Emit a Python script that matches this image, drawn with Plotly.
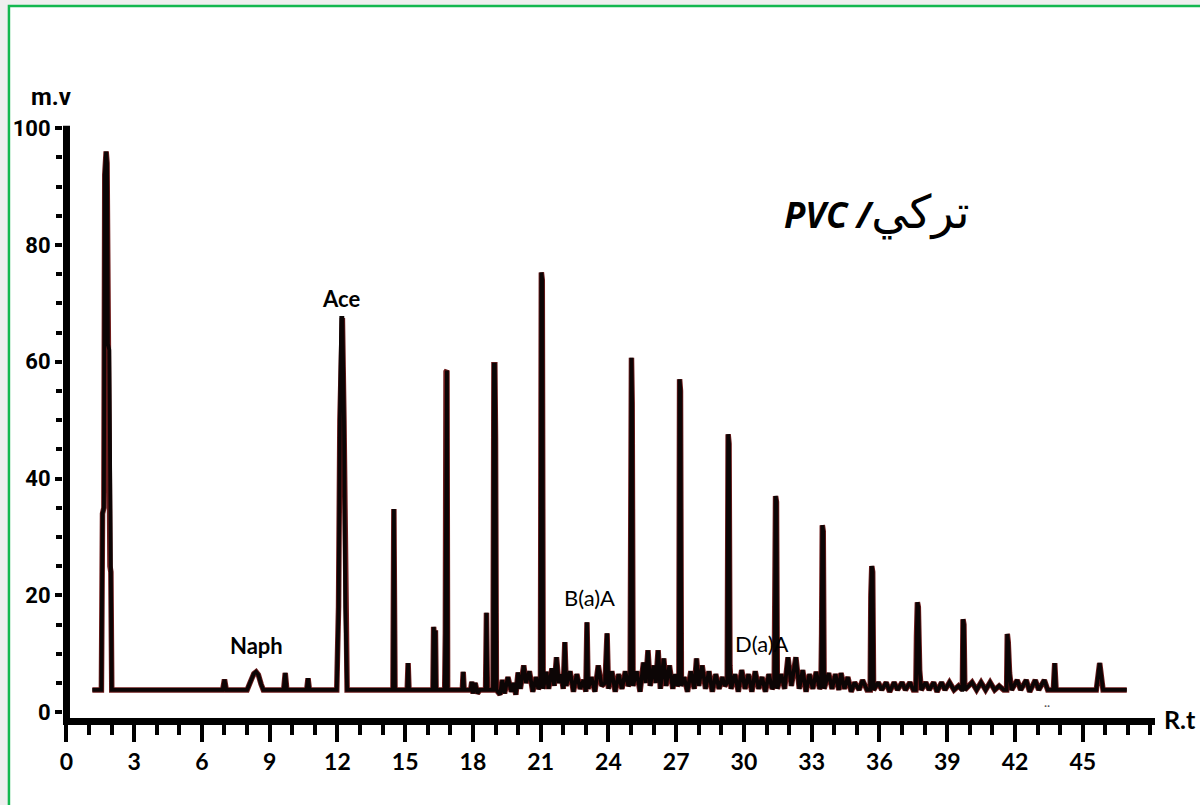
import plotly.graph_objects as go

# Retention time (min) and detector signal (m.v)
rt_min = [
    1.15, 1.55, 1.60, 1.66, 1.70, 1.76, 1.80, 1.84, 1.90, 1.93, 1.97, 2.01,
    6.92, 7.00, 7.08,
    8.00, 8.15, 8.30, 8.40, 8.50, 8.62, 8.72,
    9.62, 9.69, 9.76,
    10.64, 10.70, 10.76,
    11.97, 12.05, 12.11, 12.17, 12.22, 12.29, 12.35, 12.43,
    14.46, 14.50, 14.55,
    15.09, 15.13, 15.17,
    16.23, 16.26, 16.30, 16.34, 16.37,
    16.75, 16.78, 16.81, 16.85, 16.88,
    17.53, 17.57, 17.61,
    17.90, 17.95, 18.00, 18.10, 18.20, 18.30,
    18.56, 18.60, 18.64, 18.89, 18.93, 18.97, 19.00, 19.04,
    19.20, 19.30, 19.40, 19.55, 19.70, 19.80, 19.90, 20.00, 20.10, 20.25, 20.35, 20.50, 20.65, 20.80, 20.90,
    20.99, 21.03, 21.07, 21.11,
    21.25, 21.35, 21.50, 21.60, 21.70, 21.80, 21.90, 22.00, 22.07, 22.13, 22.30, 22.45, 22.60, 22.75,
    22.90, 23.00, 23.05, 23.10, 23.25, 23.40, 23.55, 23.70, 23.85, 23.94, 24.00, 24.15, 24.30, 24.45,
    24.60, 24.75, 24.88,
    24.96, 24.99, 25.02, 25.05, 25.09,
    25.25, 25.40, 25.55, 25.65, 25.75, 25.85, 26.00, 26.10, 26.20, 26.30, 26.45, 26.55, 26.70, 26.85,
    26.95, 27.05,
    27.12, 27.15, 27.19, 27.23,
    27.35, 27.50, 27.65, 27.80, 27.90, 28.00, 28.15, 28.30, 28.45, 28.60, 28.75, 28.90, 29.05, 29.15,
    29.26, 29.30, 29.34, 29.38, 29.43,
    29.60, 29.75, 29.90, 30.05, 30.20, 30.35, 30.50, 30.65, 30.80, 30.95, 31.10, 31.25,
    31.34, 31.37, 31.40, 31.44, 31.48,
    31.65, 31.80, 31.95, 32.10, 32.30, 32.45, 32.60, 32.75, 32.90, 33.05, 33.20, 33.35,
    33.41, 33.44, 33.47, 33.51, 33.55,
    33.75, 33.90, 34.05, 34.20, 34.30, 34.45, 34.60, 34.75, 34.90, 35.10, 35.25, 35.45,
    35.59, 35.62, 35.66, 35.70, 35.74,
    35.95, 36.10, 36.30, 36.45, 36.65, 36.80, 37.00, 37.15, 37.35, 37.50,
    37.61, 37.64, 37.68, 37.72, 37.78, 37.85,
    38.05, 38.20, 38.40, 38.55, 38.75, 38.90, 39.10, 39.30, 39.50, 39.65,
    39.67, 39.70, 39.74, 39.78,
    40.10, 40.30, 40.50, 40.70, 40.90, 41.10, 41.30, 41.50,
    41.63, 41.66, 41.70, 41.76, 41.85,
    42.10, 42.25, 42.50, 42.65, 42.90, 43.05, 43.30, 43.45, 43.60,
    43.70, 43.76, 43.82,
    45.60, 45.75, 45.90,
    46.95,
]

signal_mv = [
    3.8, 3.8, 34, 35, 92, 96, 94, 63, 62, 25, 24, 3.8,
    3.8, 5.6, 3.8,
    3.8, 5.2, 6.6, 6.9, 6.4, 4.8, 3.8,
    3.8, 6.7, 3.8,
    3.8, 5.8, 3.8,
    3.8, 18, 50, 67.5, 67.5, 50, 18, 3.8,
    3.8, 34.8, 3.8,
    3.8, 8.4, 3.8,
    3.8, 14.6, 12, 14, 3.8,
    3.8, 13.5, 58.3, 58.5, 3.8,
    3.8, 6.9, 3.8,
    3.8, 5.2, 3.2, 5.0, 3.2, 3.8,
    3.8, 17, 3.8, 3.8, 59.5, 59.5, 47, 3.8,
    3.0, 5.5, 3.2, 6.0, 3.5, 5.0, 3.0, 6.8, 4.0, 8.0, 5.0, 7.0, 3.5, 6.0, 4.0,
    4.5, 75.3, 74, 4.0,
    6.9, 4.0, 7.5, 4.5, 9.4, 5.0, 6.5, 4.0, 12, 4.5, 7.0, 3.5, 6.5, 4.0,
    5.5, 3.5, 15.4, 4.0, 6.0, 3.5, 8.0, 4.5, 5.0, 13.5, 4.0, 7.0, 3.5, 6.5,
    4.0, 7.0, 4.5,
    5.0, 33, 60.7, 53, 4.5,
    7.0, 3.5, 8.5, 5.0, 10.6, 4.5, 8.0, 5.0, 10.6, 4.0, 9.2, 4.5, 8.0, 4.0,
    6.5, 4.5,
    5.0, 57, 55, 4.5,
    6.0, 3.5, 7.0, 4.0, 9.2, 4.5, 8.0, 4.0, 7.0, 3.5, 6.5, 4.0, 6.0, 4.5,
    5.0, 47.6, 46, 8.0, 4.0,
    6.5, 3.5, 7.2, 4.0, 6.5, 3.5, 7.0, 4.0, 6.0, 3.5, 6.5, 4.0,
    4.5, 13.5, 37, 36, 4.0,
    6.5, 4.0, 9.4, 4.5, 9.4, 4.0, 7.2, 3.5, 6.5, 4.0, 6.9, 4.0,
    4.5, 13.5, 32, 31, 4.0,
    6.7, 4.0, 6.5, 3.8, 6.7, 4.0, 6.0, 3.5, 5.1, 3.8, 5.5, 3.8,
    3.8, 20, 25, 24, 3.8,
    5.1, 3.8, 5.1, 3.5, 5.1, 3.8, 5.1, 3.8, 5.1, 3.8,
    3.8, 13, 18.8, 18, 7.2, 3.8,
    5.1, 3.8, 5.1, 3.5, 5.1, 3.8, 5.1, 3.8, 4.5, 3.8,
    3.8, 15.9, 15, 3.8,
    5.1, 3.8, 5.1, 3.8, 5.1, 3.8, 4.5, 3.8,
    3.8, 13.4, 12, 6.7, 3.8,
    5.5, 3.8, 5.5, 3.5, 5.5, 3.8, 5.5, 3.8, 3.8,
    3.8, 8.4, 3.8,
    3.8, 8.4, 3.8,
    3.8,
]

# Peak labels
peak_names = ["Naph", "Ace", "B(a)A", "D(a)A"]
x_ticks = list(range(0, 46, 3))
y_ticks = [0, 20, 40, 60, 80, 100]

fig = go.Figure()
fig.add_trace(go.Scatter(x=rt_min, y=signal_mv, mode="lines",
                         line=dict(color="#6e1c1c", width=5.5), hoverinfo="skip"))
fig.add_trace(go.Scatter(x=rt_min, y=signal_mv, mode="lines",
                         line=dict(color="#0c0505", width=3.8)))

label_pos = [(8.40, 11.5), (12.16, 70.9), (23.14, 19.7), (30.8, 11.7)]
label_bold = [True, True, False, False]
for name, (lx, ly), b in zip(peak_names, label_pos, label_bold):
    fig.add_annotation(x=lx, y=ly, text=name, showarrow=False,
                       xanchor="center", yanchor="middle",
                       font=dict(family="Lato", size=22, color="black",
                                 weight="bold" if b else "normal"))

fig.add_annotation(x=35.9, y=86.0,
                   text="<b><i>PVC /</i></b><span style='font-size:46px'>تركي</span>",
                   showarrow=False, xanchor="center", yanchor="middle",
                   font=dict(family="Open Sans, DejaVu Sans", size=35, color="black"))
fig.add_annotation(xref="paper", yref="paper", x=-0.011, y=1.051, text="m.v",
                   showarrow=False, xanchor="center", yanchor="middle",
                   font=dict(family="Roboto", size=24, color="black", weight="bold"))
fig.add_annotation(xref="paper", yref="paper", x=1.023, y=-0.002, text="R.t",
                   showarrow=False, xanchor="center", yanchor="middle",
                   font=dict(family="Lato", size=25, color="black", weight="bold"))
# faint specks under the trace near 43.4 min
fig.add_annotation(x=43.4, y=1.2, text="··", showarrow=False,
                   xanchor="center", yanchor="middle",
                   font=dict(family="Lato", size=12, color="#555555"))

# frame of the figure (green top/left border)
fig.add_shape(type="rect", xref="paper", yref="paper", x0=-0.0495, x1=1.05, y0=-0.17, y1=1.2047,
              line=dict(color="#14b850", width=2.5), fillcolor="white", layer="below")
# thick y axis line
fig.add_shape(type="line", xref="paper", yref="paper", x0=0.0032, x1=0.0032, y0=-0.012, y1=1.002,
              line=dict(color="black", width=7))

fig.update_layout(
    width=1200, height=805,
    margin=dict(l=63, r=45, t=127, b=87),
    paper_bgcolor="#efefef", plot_bgcolor="rgba(0,0,0,0)",
    showlegend=False,
    xaxis=dict(range=[-0.15, 48.2], tickvals=x_ticks, showgrid=False, zeroline=False,
               showline=True, linewidth=7, linecolor="black",
               ticks="outside", ticklen=17, tickwidth=4, tickcolor="black",
               minor=dict(dtick=1, tick0=0, ticks="outside", ticklen=10, tickwidth=4, tickcolor="black"),
               tickfont=dict(family="Lato", size=23, color="black", weight="bold")),
    yaxis=dict(range=[-1.0, 100.2], tickvals=y_ticks, showgrid=False, zeroline=False,
               showline=False,
               ticks="outside", ticklen=7, tickwidth=4, tickcolor="black",
               minor=dict(dtick=5, tick0=0, ticks="outside", ticklen=6, tickwidth=4, tickcolor="black"),
               tickfont=dict(family="Roboto", size=22, color="black", weight="bold")),
)

fig.write_html("out.html")
